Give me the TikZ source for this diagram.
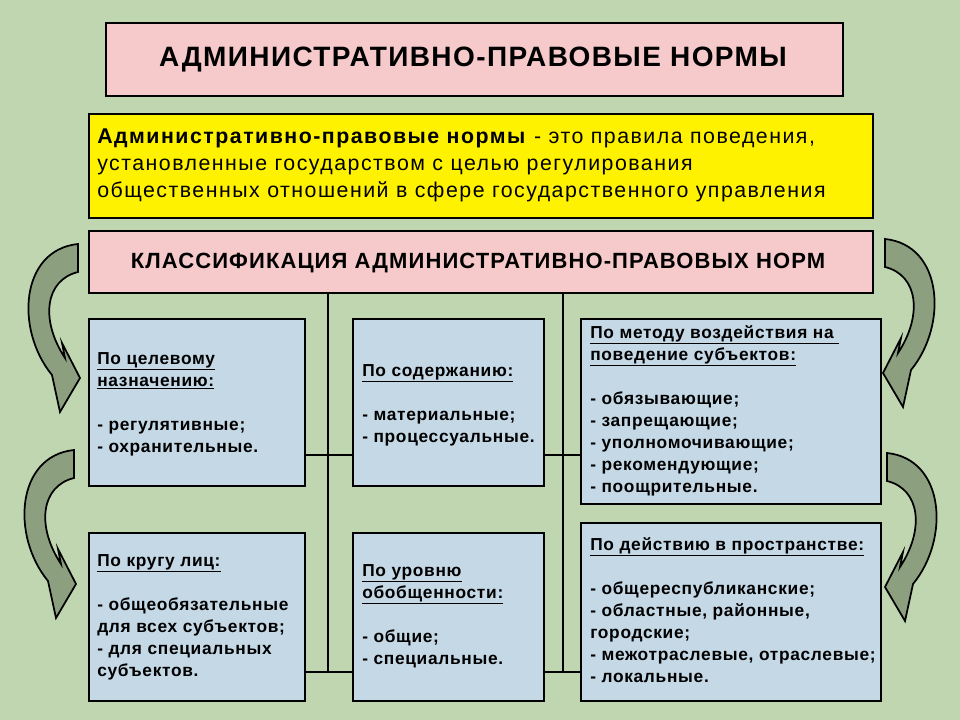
\documentclass[tikz,border=0pt]{standalone}
\usepackage{fontspec}
\setmainfont{Liberation Sans}
\newfontfamily\spA{Liberation Sans}[LetterSpace=4]
\newfontfamily\spB{Liberation Sans}[LetterSpace=7]
\newfontfamily\spC{Liberation Sans}[LetterSpace=5]
\definecolor{bg}{RGB}{192,214,176}
\definecolor{pinkf}{RGB}{246,202,202}
\definecolor{bluef}{RGB}{196,216,230}
\definecolor{arrf}{RGB}{140,160,128}
\tikzset{
  frame/.style={draw=black,line width=1.6pt,anchor=north west,inner sep=0pt},
  pinkbox/.style={frame,fill=pinkf},
  bluebox/.style={frame,fill=bluef},
  boxtext/.style={anchor=north west,inner sep=0pt,align=left,font=\spA\fontsize{13}{16.5}\selectfont\bfseries},
  conn/.style={line width=1.3pt},
  bigarrow/.style={draw=black,line width=1.3pt,fill=arrf,line join=miter}
}
\begin{document}
\begin{tikzpicture}[x=0.75pt,y=-0.75pt]
\fill[bg] (0,0) rectangle (960,720);
\useasboundingbox (0,0) rectangle (960,720);
% curved arrows
\newcommand{\arrowshape}{(78,244) .. controls (20,250) and (15,330) .. (52,375) -- (60,412) -- (80,378) -- (62,343) -- (65,358) .. controls (40,320) and (45,280) .. (78,272) -- cycle}
\draw[bigarrow] \arrowshape;
\draw[bigarrow,shift={(-4,206)}] \arrowshape;
\draw[bigarrow,xshift=963*0.75pt,xscale=-1,shift={(0,-5)}] \arrowshape;
\draw[bigarrow,xshift=963*0.75pt,xscale=-1,shift={(-2,209)}] \arrowshape;
% connectors
\coordinate (v1t) at (328,292); \coordinate (v1b) at (328,672);
\coordinate (v2t) at (563,292); \coordinate (v2b) at (563,672);
\draw[conn] (v1t) -- (v1b);
\draw[conn] (v2t) -- (v2b);
% boxes
\node[pinkbox,minimum width=552.75pt,minimum height=54.75pt] (title) at (105,22) {};
\node[font=\spC\fontsize{21}{24}\selectfont\bfseries] (titlet) at (473,60) {АДМИНИСТРАТИВНО-ПРАВОВЫЕ НОРМЫ};
\node[frame,fill=yellow,minimum width=588pt,minimum height=78pt] (def) at (88,113) {};
\node[anchor=north west,inner sep=0pt,align=left,font=\spB\fontsize{16}{20}\selectfont] (deft) at (97,129) {\textbf{Административно-правовые нормы} - это правила поведения,\\установленные государством с целью регулирования\\общественных отношений в сфере государственного управления};
\node[pinkbox,minimum width=588pt,minimum height=46.5pt] (cls) at (88,230) {};
\node[font=\spC\fontsize{16.5}{18}\selectfont\bfseries] (clst) at (478,263) {КЛАССИФИКАЦИЯ АДМИНИСТРАТИВНО-ПРАВОВЫХ НОРМ};
\node[bluebox,minimum width=162pt,minimum height=125.25pt] (b1) at (88,318) {};
\node[bluebox,minimum width=162pt,minimum height=126pt] (b2) at (88,532) {};
\node[bluebox,minimum width=143.25pt,minimum height=125.25pt] (b3) at (352,318) {};
\node[bluebox,minimum width=143.25pt,minimum height=126pt] (b4) at (352,532) {};
\node[bluebox,minimum width=225pt,minimum height=138.75pt] (b5) at (580,318) {};
\node[bluebox,minimum width=225pt,minimum height=133.5pt] (b6) at (580,522) {};
\draw[conn] (b1.east |- 0,455) -- (b3.west |- 0,455);
\draw[conn] (b3.east |- 0,455) -- (b5.west |- 0,455);
\draw[conn] (b2.east |- 0,672) -- (b4.west |- 0,672);
\draw[conn] (b4.east |- 0,672) -- (b6.west |- 0,672);
% texts
\node[boxtext] (t1) at (97,352) {\underline{По целевому}\\\underline{назначению:}\\[16.5pt]- регулятивные;\\- охранительные.};
\node[boxtext] (t2) at (97,554) {\underline{По кругу лиц:}\\[16.5pt]- общеобязательные\\для всех субъектов;\\- для специальных\\субъектов.};
\node[boxtext] (t3) at (362,364) {\underline{По содержанию:}\\[16.5pt]- материальные;\\- процессуальные.};
\node[boxtext] (t4) at (362,564) {\underline{По уровню}\\\underline{обобщенности:}\\[16.5pt]- общие;\\- специальные.};
\node[boxtext] (t5) at (590,325) {\underline{По методу воздействия на }\\\underline{поведение субъектов:}\\[16.5pt]- обязывающие;\\- запрещающие;\\- уполномочивающие;\\- рекомендующие;\\- поощрительные.};
\node[boxtext] (t6) at (590,537) {\underline{По действию в пространстве:}\\[16.5pt]- общереспубликанские;\\- областные, районные,\\городские;\\- межотраслевые, отраслевые;\\- локальные.};
\end{tikzpicture}
\end{document}
